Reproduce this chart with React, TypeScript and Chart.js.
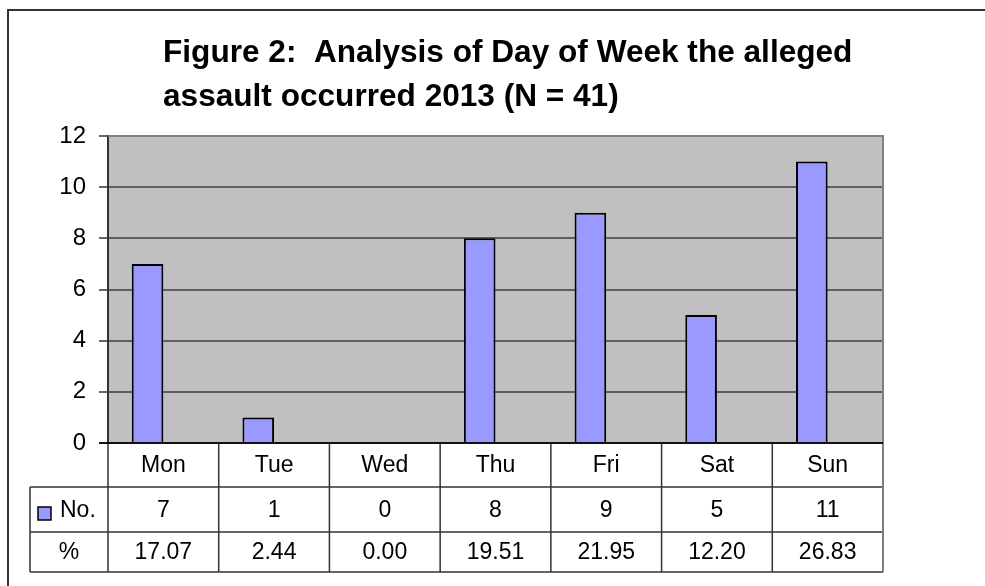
import React, { useEffect, useRef } from "react";
import { Chart, registerables } from "chart.js";

Chart.register(...registerables);

const categories = ["Mon", "Tue", "Wed", "Thu", "Fri", "Sat", "Sun"];
const counts = [7, 1, 0, 8, 9, 5, 11];
const percents = [17.07, 2.44, 0.0, 19.51, 21.95, 12.2, 26.83];
const yMin = 0;
const yMax = 12;
const yStep = 2;
const titleLines = [
  "Figure 2:  Analysis of Day of Week the alleged",
  "assault occurred 2013 (N = 41)",
];
const countLabel = "No.";
const percentLabel = "%";

const FONT = '"Liberation Sans", Arial, Helvetica, sans-serif';
const BAR_FILL = "#9999FF";

const decorPlugin = {
  id: "decor",
  beforeDraw(chart: any) {
    const { ctx, chartArea: a, width, height } = chart;
    ctx.save();
    ctx.fillStyle = "#ffffff";
    ctx.fillRect(0, 0, width, height);
    // outer chart border
    ctx.strokeStyle = "#333333";
    ctx.lineWidth = 2;
    ctx.beginPath();
    ctx.moveTo(8, height + 5);
    ctx.lineTo(8, 10);
    ctx.lineTo(width + 5, 10);
    ctx.stroke();
    // plot area background
    ctx.fillStyle = "#C0C0C0";
    ctx.fillRect(a.left, a.top, a.right - a.left, a.bottom - a.top);
    ctx.restore();
  },
  afterDraw(chart: any) {
    const { ctx, chartArea: a } = chart;
    ctx.save();
    // title
    ctx.fillStyle = "#000000";
    ctx.font = `bold 31.6px ${FONT}`;
    ctx.textAlign = "left";
    ctx.textBaseline = "alphabetic";
    ctx.fillText(titleLines[0], 163, 62);
    ctx.fillText(titleLines[1], 163, 106);

    // plot border (top & right)
    ctx.strokeStyle = "#808080";
    ctx.lineWidth = 2;
    ctx.beginPath();
    ctx.moveTo(a.left, a.top);
    ctx.lineTo(a.right, a.top);
    ctx.lineTo(a.right, a.bottom);
    ctx.stroke();

    // data table
    const n = categories.length;
    const cw = (a.right - a.left) / n;
    const r0 = a.bottom;
    const r1 = a.bottom + 44;
    const r2 = a.bottom + 89;
    const r3 = a.bottom + 129;
    const tableLeft = 30;

    ctx.strokeStyle = "#333333";
    ctx.lineWidth = 1.5;
    ctx.beginPath();
    ctx.moveTo(tableLeft, r1);
    ctx.lineTo(a.right, r1);
    ctx.moveTo(tableLeft, r2);
    ctx.lineTo(a.right, r2);
    ctx.moveTo(tableLeft, r3);
    ctx.lineTo(a.right, r3);
    ctx.moveTo(tableLeft, r1);
    ctx.lineTo(tableLeft, r3);
    for (let i = 0; i < n; i++) {
      const x = a.left + i * cw;
      ctx.moveTo(x, r0);
      ctx.lineTo(x, r3);
    }
    ctx.stroke();

    ctx.strokeStyle = "#808080";
    ctx.lineWidth = 2;
    ctx.beginPath();
    ctx.moveTo(a.right, r0);
    ctx.lineTo(a.right, r3);
    ctx.stroke();

    // x axis line
    ctx.strokeStyle = "#111111";
    ctx.lineWidth = 2;
    ctx.beginPath();
    ctx.moveTo(a.left - 9, a.bottom);
    ctx.lineTo(a.right, a.bottom);
    ctx.stroke();

    ctx.fillStyle = "#000000";
    ctx.font = `23px ${FONT}`;
    ctx.textAlign = "center";
    ctx.textBaseline = "middle";
    for (let i = 0; i < n; i++) {
      const cx = a.left + (i + 0.5) * cw;
      ctx.fillText(categories[i], cx, (r0 + r1) / 2 + 1);
      ctx.fillText(String(counts[i]), cx, (r1 + r2) / 2 + 1);
      ctx.fillText(percents[i].toFixed(2), cx, (r2 + r3) / 2 + 1);
    }
    ctx.fillText(percentLabel, (tableLeft + a.left) / 2, (r2 + r3) / 2 + 1);
    ctx.textAlign = "left";
    ctx.fillText(countLabel, 60, (r1 + r2) / 2 + 1);
    // legend key
    ctx.fillStyle = BAR_FILL;
    ctx.fillRect(38, 507, 13, 13);
    ctx.strokeStyle = "#000000";
    ctx.lineWidth = 1.5;
    ctx.strokeRect(38, 507, 13, 13);
    ctx.restore();
  },
};

export default function App() {
  const ref = useRef<HTMLCanvasElement | null>(null);

  useEffect(() => {
    document.body.style.margin = "0";
    const canvas = ref.current;
    if (!canvas) return;
    const chart = new Chart(canvas, {
      type: "bar",
      data: {
        labels: categories,
        datasets: [
          {
            label: countLabel,
            data: counts,
            backgroundColor: BAR_FILL,
            borderColor: "#000000",
            borderWidth: 2,
            categoryPercentage: 2 / 3.5,
            barPercentage: 1,
          },
          {
            label: percentLabel,
            data: percents,
            backgroundColor: "rgba(0,0,0,0)",
            borderWidth: 0,
            categoryPercentage: 2 / 3.5,
            barPercentage: 1,
          },
        ],
      },
      options: {
        responsive: false,
        animation: false,
        layout: { padding: { left: 0, right: 102, top: 136, bottom: 143 } },
        plugins: {
          legend: { display: false },
          title: { display: false },
          tooltip: { enabled: false },
        },
        scales: {
          x: { display: false },
          y: {
            min: yMin,
            max: yMax,
            afterFit: (s: any) => {
              s.width = 108;
            },
            ticks: {
              stepSize: yStep,
              color: "#000000",
              font: { family: FONT, size: 24 },
              padding: 13,
            },
            grid: {
              color: "#5f5f5f",
              lineWidth: 2,
              tickLength: 9,
              tickColor: "#333333",
              tickWidth: 1.5,
            },
            border: { display: true, color: "#333333", width: 2 },
          },
        },
      },
      plugins: [decorPlugin],
    });
    return () => chart.destroy();
  }, []);

  return (
    <div style={{ position: "absolute", left: 0, top: 0, width: 985, height: 586 }}>
      <canvas ref={ref} width={985} height={586} />
    </div>
  );
}
